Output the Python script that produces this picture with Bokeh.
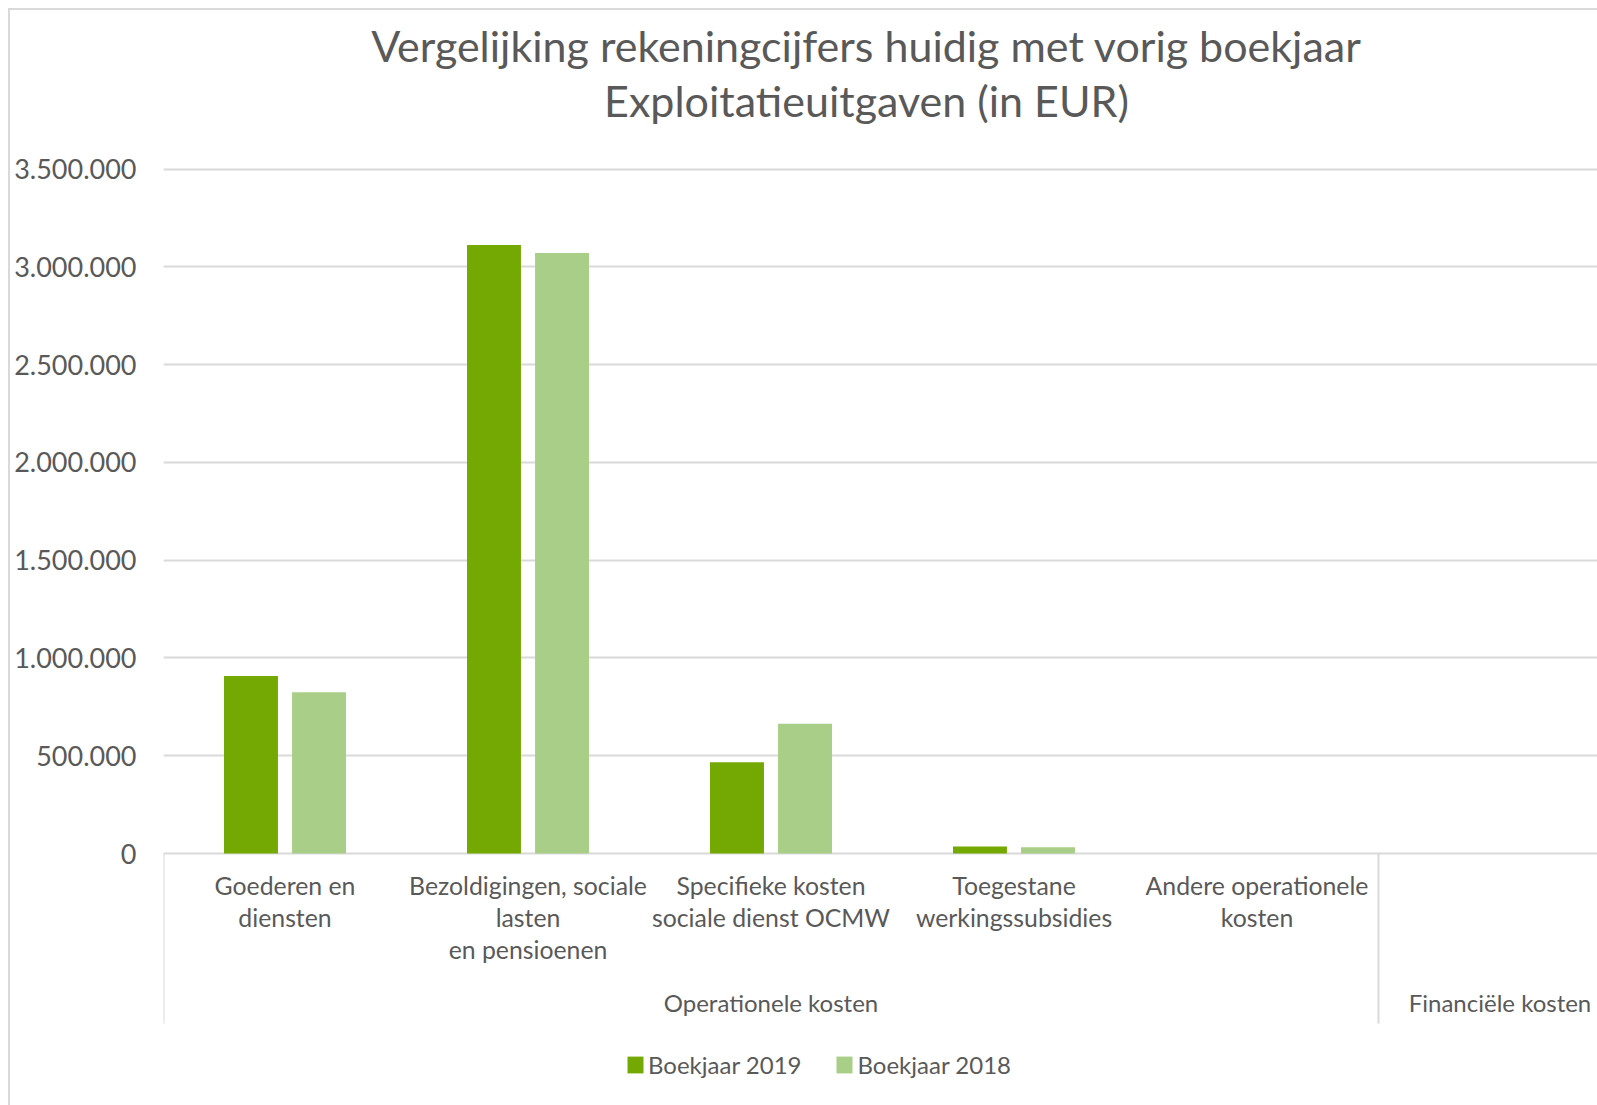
import numpy as np
from bokeh.plotting import figure
from bokeh.models import ColumnDataSource, Range1d, FixedTicker, Legend, LegendItem
from bokeh.core.properties import value
from bokeh.transform import dodge
from bokeh.embed import file_html
from bokeh.resources import INLINE

# ---------------- data ----------------
TITLE_LINES = ["Vergelijking rekeningcijfers huidig met vorig boekjaar",
               "Exploitatieuitgaven (in EUR)"]
GROUPS = ["Operationele kosten", "Financiële kosten"]
GROUP_SIZES = [5, 1]
CATEGORIES = ["Goederen en\ndiensten",
              "Bezoldigingen, sociale\nlasten\nen pensioenen",
              "Specifieke kosten\nsociale dienst OCMW",
              "Toegestane\nwerkingssubsidies",
              "Andere operationele\nkosten",
              ""]
SERIES = ["Boekjaar 2019", "Boekjaar 2018"]
VALUES_2019 = [908000, 3112000, 466000, 36000, 0, 0]
VALUES_2018 = [825000, 3071000, 664000, 32000, 0, 0]
Y_TICKS = [0, 500000, 1000000, 1500000, 2000000, 2500000, 3000000, 3500000]
Y_TICK_LABELS = ["0", "500.000", "1.000.000", "1.500.000", "2.000.000",
                 "2.500.000", "3.000.000", "3.500.000"]

# ---------------- styling / layout ----------------
COL_2019 = "#74A802"
COL_2018 = "#A9CE87"
TXT = "#595959"
GRID = "#D9D9D9"
FONT = "Lato"

LEFT, TOP = 163, 10
FRAME_W, FRAME_H = 1597 - LEFT, 1105 - TOP
CAT_PX = 243.0
ZERO_FROM_TOP = 843.0
PX_PER_UNIT = 684.5 / 3500000.0

y_end = ZERO_FROM_TOP / PX_PER_UNIT
y_start = -(FRAME_H - ZERO_FROM_TOP) / PX_PER_UNIT
x_end = FRAME_W / CAT_PX

p = figure(frame_width=FRAME_W, frame_height=FRAME_H,
           x_range=Range1d(0, x_end), y_range=Range1d(y_start, y_end),
           output_backend="svg", toolbar_location=None,
           x_axis_location=None, min_border=0)
p.min_border_left = LEFT
p.min_border_top = TOP
p.min_border_right = 0
p.min_border_bottom = 0
p.outline_line_color = None
p.background_fill_color = "white"
p.border_fill_color = None
p.styles = {"box-shadow": "inset 8px 8px 0 0 #FFFFFF, inset 10px 10px 0 0 #D9D9D9"}

# axes / grid
p.xgrid.grid_line_color = None
p.ygrid.grid_line_color = GRID
p.ygrid.grid_line_width = 2
p.yaxis.ticker = FixedTicker(ticks=Y_TICKS)
p.yaxis.major_label_overrides = {t: l for t, l in zip(Y_TICKS, Y_TICK_LABELS)}
p.yaxis.axis_line_color = None
p.yaxis.major_tick_line_color = None
p.yaxis.minor_tick_line_color = None
p.yaxis.major_label_standoff = 21
p.yaxis.major_label_text_font = FONT
p.yaxis.major_label_text_font_size = "27px"
p.yaxis.major_label_text_color = TXT

# bars
n = len(CATEGORIES)
src = ColumnDataSource(dict(x=np.arange(n) + 0.5, v2019=VALUES_2019, v2018=VALUES_2018))
BAR_W = 0.222
OFF = 0.14
r1 = p.vbar(x=dodge("x", -OFF, range=p.x_range), top="v2019", width=BAR_W, source=src,
            fill_color=COL_2019, line_color=None)
r2 = p.vbar(x=dodge("x", OFF, range=p.x_range), top="v2018", width=BAR_W, source=src,
            fill_color=COL_2018, line_color=None)

# group separators
bounds = np.concatenate([[0], np.cumsum(GROUP_SIZES)])
sep_depth = -170.0 / PX_PER_UNIT
p.segment(x0=bounds, x1=bounds, y0=[0] * len(bounds), y1=[sep_depth] * len(bounds),
          line_color=GRID, line_width=2)

# category labels (line by line)
lx, ly, lt, lo = [], [], [], []
for i, lab in enumerate(CATEGORIES):
    for j, line in enumerate(lab.split("\n")):
        if not line:
            continue
        lx.append(i + 0.5); ly.append(0); lt.append(line); lo.append(31.5 + j * 32)
p.text(x=lx, y=ly, text=lt, y_offset=lo, text_align="center", text_baseline="middle",
       text_font=value(FONT), text_font_size=value("24.8px"), text_color=TXT)

# group labels
gx = [bounds[k] + GROUP_SIZES[k] / 2 for k in range(len(GROUPS))]
p.text(x=gx, y=[0] * len(GROUPS), text=GROUPS, y_offset=149, text_align="center",
       text_baseline="middle", text_font=value(FONT), text_font_size=value("24px"),
       text_color=TXT)

# title
tx = (866 - LEFT) / CAT_PX
p.text(x=[tx, tx], y=[y_end, y_end], text=TITLE_LINES, y_offset=[35, 90],
       text_align="center", text_baseline="alphabetic", text_font=value(FONT),
       text_font_size=value("43px"), text_color=TXT)

# legend
legend = Legend(items=[LegendItem(label=SERIES[0], renderers=[r1]),
                       LegendItem(label=SERIES[1], renderers=[r2])],
                orientation="horizontal", location=(462, 26))
legend.border_line_color = None
legend.background_fill_alpha = 0
legend.padding = 0
legend.margin = 0
legend.spacing = 33
legend.label_standoff = 3
legend.glyph_width = 20
legend.glyph_height = 21
legend.label_text_font = FONT
legend.label_text_font_size = "24px"
legend.label_text_color = TXT
p.add_layout(legend)

open("out.html", "w").write(file_html(p, INLINE))
